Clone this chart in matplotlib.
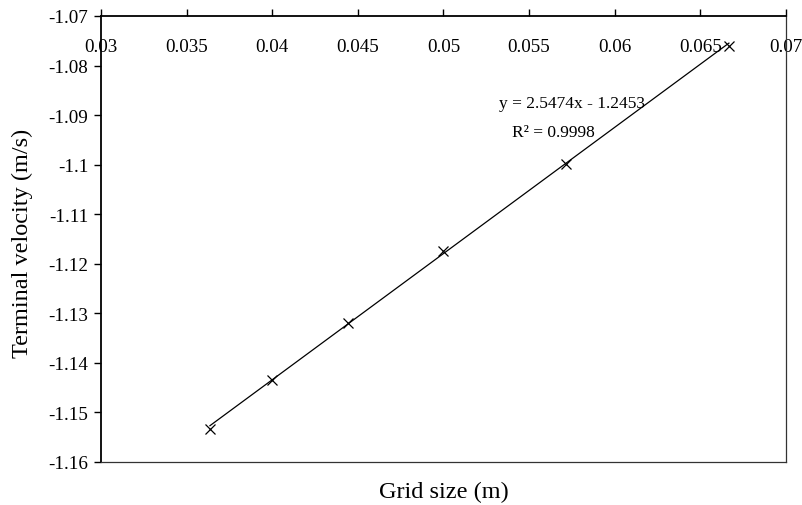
import numpy as np
import matplotlib
matplotlib.use("Agg")
import matplotlib.pyplot as plt

plt.rcParams['font.family'] = ['Liberation Serif', 'DejaVu Serif']

# grid size (m) and terminal velocity (m/s)
grid_size = [1 / 27.5, 0.04, 1 / 22.5, 0.05, 1 / 17.5, 1 / 15]
velocity = [-1.1533, -1.1435, -1.1320, -1.1175, -1.0999, -1.0761]

slope = 2.5474
intercept = -1.2453
r2_text = "R² = 0.9998"
eq_text = "y = 2.5474x - 1.2453"

x_ticks = [0.03, 0.035, 0.04, 0.045, 0.05, 0.055, 0.06, 0.065, 0.07]
x_labels = ["0.03", "0.035", "0.04", "0.045", "0.05", "0.055", "0.06", "0.065", "0.07"]
y_ticks = [-1.16, -1.15, -1.14, -1.13, -1.12, -1.11, -1.1, -1.09, -1.08, -1.07]
y_labels = ["-1.16", "-1.15", "-1.14", "-1.13", "-1.12", "-1.11", "-1.1", "-1.09", "-1.08", "-1.07"]

fig = plt.figure(figsize=(8.03, 5.06), dpi=100)
ax = fig.add_axes([101 / 803, 1 - 463 / 506, (786 - 101) / 803, (463 - 17) / 506])

# trendline over the data range
xs = np.array([min(grid_size), max(grid_size)])
ax.plot(xs, slope * xs + intercept, color='black', lw=0.9)
ax.plot(grid_size, velocity, linestyle='none', marker='x', color='black',
        markersize=7, markeredgewidth=0.9)

ax.set_xlim(0.03, 0.07)
ax.set_ylim(-1.16, -1.07)

# x axis sits at the top (Excel style, axis crosses at -1.07)
ax.xaxis.set_ticks_position('top')
ax.set_xticks(x_ticks)
ax.set_xticklabels(x_labels)
ax.tick_params(axis='x', direction='out', length=5, width=1, pad=-33,
               labelsize=13.7)
ax.set_yticks(y_ticks)
ax.set_yticklabels(y_labels)
ax.tick_params(axis='y', direction='out', length=5, width=1, pad=4,
               labelsize=13.7)

for side in ['top', 'left']:
    ax.spines[side].set_linewidth(1.3)
for side in ['bottom', 'right']:
    ax.spines[side].set_linewidth(0.9)
    ax.spines[side].set_color('#333333')

ax.text(0.06177, -1.0884, eq_text, ha='right', va='baseline', fontsize=12.5)
ax.text(0.05885, -1.0942, r2_text, ha='right', va='baseline', fontsize=12.5)

fig.text(101 / 803 + (786 - 101) / 803 / 2, 1 - 492 / 506, "Grid size (m)",
         ha='center', va='center', fontsize=17.5)
fig.text(22 / 803, 1 - 243 / 506, "Terminal velocity (m/s)", rotation=90,
         ha='center', va='center', fontsize=17.5)

fig.savefig("out.png", dpi=100)
